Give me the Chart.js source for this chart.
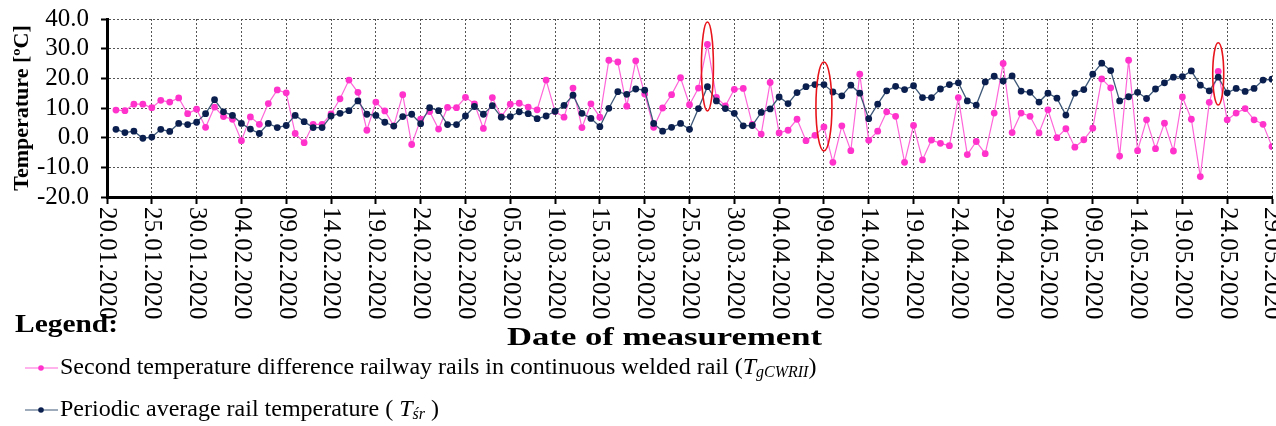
<!DOCTYPE html>
<html lang="en">
<head>
<meta charset="UTF-8">
<title>Rail temperature</title>
<script src="https://cdn.jsdelivr.net/npm/chart.js"></script>
<style>
  body { margin: 0; background: #fff; }
</style>
</head>
<body>
<canvas id="myChart" width="1276" height="426"></canvas>
<script>
  // tick labels on the date axis, one every 5 days
  const tickLabels = ["20.01.2020", "25.01.2020", "30.01.2020", "04.02.2020", "09.02.2020", "14.02.2020",
    "19.02.2020", "24.02.2020", "29.02.2020", "05.03.2020", "10.03.2020", "15.03.2020", "20.03.2020",
    "25.03.2020", "30.03.2020", "04.04.2020", "09.04.2020", "14.04.2020", "19.04.2020", "24.04.2020",
    "29.04.2020", "04.05.2020", "09.05.2020", "14.05.2020", "19.05.2020", "24.05.2020", "29.05.2020"];
  const tickStep = 5;
  const firstDay = 1; // measurements start 21.01.2020 (day 0 = 20.01.2020)

  // second temperature difference, T_gCWRII
  const tgcwr = [
    9.3, 9.1, 11.3, 11.3, 10.1, 12.6, 12.0, 13.4, 8.1, 9.6, 3.5, 10.3, 7.1, 6.2, -1.0, 7.0, 4.5, 11.5, 16.1, 15.1,
    1.4, -1.7, 4.5, 4.5, 8.0, 13.1, 19.4, 15.3, 2.5, 12.0, 9.0, 4.0, 14.5, -2.3, 6.2, 8.8, 2.9, 10.2, 10.1, 13.6,
    11.4, 3.1, 13.5, 7.1, 11.3, 11.6, 10.3, 9.4, 19.4, 8.8, 6.9, 16.7, 3.4, 11.4, 6.9, 26.1, 25.5, 10.6, 25.9, 14.7,
    3.5, 10.0, 14.5, 20.2, 11.1, 16.7, 31.4, 13.6, 10.7, 16.3, 16.6, 4.5, 1.2, 18.6, 1.6, 2.5, 6.2, -1.0, 0.8, 3.6,
    -8.3, 4.0, -4.4, 21.4, -0.9, 2.2, 8.7, 7.2, -8.3, 4.1, -7.5, -0.8, -1.9, -2.7, 13.5, -5.7, -1.3, -5.4, 8.3, 25.0,
    1.7, 8.3, 7.2, 1.6, 9.4, 0.0, 3.0, -3.2, -0.7, 3.2, 19.8, 16.8, -6.2, 26.1, -4.4, 6.0, -3.7, 4.9, -4.5, 13.7,
    6.2, -13.1, 11.9, 22.3, 6.0, 8.3, 9.8, 6.0, 4.5, -3.0
  ];

  // periodic average rail temperature, T_sr
  const tsr = [
    2.8, 1.7, 2.2, -0.2, 0.2, 2.8, 2.1, 4.8, 4.4, 5.2, 8.1, 12.8, 8.7, 7.5, 4.8, 2.9, 1.4, 4.8, 3.4, 4.1,
    7.5, 5.4, 3.4, 3.4, 7.3, 8.2, 9.1, 12.4, 7.9, 7.5, 5.2, 3.9, 7.1, 7.9, 4.7, 10.1, 9.1, 4.4, 4.4, 7.3,
    10.5, 7.9, 10.8, 6.9, 7.1, 8.7, 8.1, 6.4, 7.3, 8.9, 10.9, 14.3, 8.2, 6.5, 3.7, 9.9, 15.5, 14.6, 16.4, 16.0,
    4.8, 2.2, 3.5, 4.8, 2.8, 9.8, 17.2, 12.4, 9.8, 8.2, 4.0, 4.1, 8.5, 9.7, 13.7, 11.5, 15.2, 17.2, 17.9, 17.9,
    15.4, 14.1, 17.7, 15.0, 6.4, 11.3, 15.8, 17.3, 16.2, 17.5, 13.5, 13.5, 16.4, 17.9, 18.5, 12.4, 11.0, 18.8, 20.7, 19.1,
    20.8, 15.7, 15.3, 12.0, 15.0, 13.3, 7.6, 15.0, 16.2, 21.4, 25.1, 22.6, 12.4, 13.8, 15.3, 13.2, 16.4, 18.5, 20.4, 20.6,
    22.5, 17.7, 15.8, 20.4, 15.1, 16.6, 15.6, 16.6, 19.4, 19.7
  ];

  // red ellipses drawn round three days (day index, value range)
  const markDay = [67, 80, 124];
  const markTop = [39, 25.5, 32];
  const markBottom = [9, -4.5, 11];

  const yMin = -20, yMax = 40, yStep = 10;

  const pink = '#ff33cc', pinkLine = '#ff66d9';
  const navy = '#0b1f4f', navyLine = '#3d5878';
  const serif = '"Liberation Serif", "Times New Roman", serif';

  const toPoints = arr => arr.map((v, i) => ({ x: firstDay + i, y: v }));

  function richText(ctx, parts, x, y) {
    parts.forEach(p => {
      ctx.font = p.font;
      ctx.fillText(p.text, x, y + (p.dy || 0));
      x += ctx.measureText(p.text).width;
    });
  }

  // text stretched sideways to a given width, like the source picture
  function wideText(ctx, text, x, y, w) {
    const m = ctx.measureText(text).width;
    ctx.save();
    ctx.translate(x, y);
    ctx.scale(w / m, 1);
    ctx.fillText(text, 0, 0);
    ctx.restore();
  }

  const extras = {
    id: 'extras',
    afterDraw(chart) {
      const ctx = chart.ctx;
      const xs = chart.scales.x, ys = chart.scales.y;
      ctx.save();

      // red ellipses
      const rx = [6, 8, 5.5];
      ctx.strokeStyle = '#e8141b';
      ctx.lineWidth = 1.6;
      markDay.forEach((d, i) => {
        const cx = xs.getPixelForValue(d);
        const t = ys.getPixelForValue(markTop[i]);
        const b = ys.getPixelForValue(markBottom[i]);
        ctx.beginPath();
        ctx.ellipse(cx, (t + b) / 2, rx[i], (b - t) / 2, 0, 0, Math.PI * 2);
        ctx.stroke();
      });

      // rotated date labels
      ctx.fillStyle = '#000';
      ctx.font = '25px ' + serif;
      ctx.textAlign = 'left';
      ctx.textBaseline = 'middle';
      tickLabels.forEach((t, k) => {
        const x = xs.getPixelForValue(k * tickStep);
        ctx.save();
        ctx.translate(x, ys.bottom + 10);
        ctx.rotate(Math.PI / 2);
        ctx.fillText(t, 0, 0);
        ctx.restore();
      });

      // axis titles
      ctx.font = 'bold 22px ' + serif;
      ctx.textAlign = 'center';
      ctx.save();
      ctx.translate(22, (ys.top + ys.bottom) / 2);
      ctx.rotate(-Math.PI / 2);
      ctx.fillText('Temperature [ºC]', 0, 0);
      ctx.restore();
      ctx.textAlign = 'left';
      ctx.font = 'bold 26px ' + serif;
      wideText(ctx, 'Date of measurement', 507, 338, 315);

      // legend
      wideText(ctx, 'Legend:', 15, 325, 103);

      const base = '24px ' + serif, ital = 'italic 24px ' + serif, sub = 'italic 16px ' + serif;
      const rows = [
        { y: 368, line: pinkLine, dot: pink, parts: [
          { text: 'Second temperature difference railway rails in continuous welded rail (', font: base },
          { text: 'T', font: ital }, { text: 'gCWRII', font: sub, dy: 5 }, { text: ')', font: base }] },
        { y: 410, line: navyLine, dot: navy, parts: [
          { text: 'Periodic average rail temperature ( ', font: base },
          { text: 'T', font: ital }, { text: 'śr', font: sub, dy: 5 }, { text: ' )', font: base }] }
      ];
      rows.forEach(r => {
        ctx.strokeStyle = r.line;
        ctx.lineWidth = 1.2;
        ctx.beginPath();
        ctx.moveTo(25, r.y);
        ctx.lineTo(58, r.y);
        ctx.stroke();
        ctx.fillStyle = r.dot;
        ctx.beginPath();
        ctx.arc(41, r.y, 2.8, 0, Math.PI * 2);
        ctx.fill();
        ctx.fillStyle = '#000';
        richText(ctx, r.parts, 60, r.y);
      });
      ctx.restore();
    }
  };

  Chart.defaults.font.family = serif;

  new Chart(document.getElementById('myChart'), {
    type: 'line',
    data: {
      datasets: [
        {
          label: 'Periodic average rail temperature',
          data: toPoints(tsr),
          borderColor: navyLine,
          borderWidth: 1.3,
          pointRadius: 3.4,
          pointBackgroundColor: navy,
          pointBorderColor: navy,
          pointBorderWidth: 0,
          order: 1
        },
        {
          label: 'Second temperature difference railway rails in continuous welded rail',
          data: toPoints(tgcwr),
          borderColor: pinkLine,
          borderWidth: 1.2,
          pointRadius: 3.4,
          pointBackgroundColor: pink,
          pointBorderColor: pink,
          pointBorderWidth: 0,
          order: 2
        }
      ]
    },
    options: {
      responsive: false,
      animation: false,
      layout: { padding: { top: 19, right: 2, left: 0, bottom: 0 } },
      plugins: { legend: { display: false }, tooltip: { enabled: false } },
      scales: {
        x: {
          type: 'linear',
          min: 0,
          max: (tickLabels.length - 1) * tickStep,
          ticks: { stepSize: tickStep, display: false },
          grid: { color: '#555', lineWidth: 1, tickLength: 7, tickColor: '#000', tickWidth: 2 },
          border: { display: true, color: '#000', width: 3, dash: [2, 2] },
          afterFit: s => { s.height = 229; }
        },
        y: {
          min: yMin,
          max: yMax,
          ticks: {
            stepSize: yStep,
            autoSkip: false,
            color: '#000',
            padding: 12,
            font: { size: 25, lineHeight: 0.4 },
            callback: v => v.toFixed(1)
          },
          grid: { color: '#555', lineWidth: 1, tickLength: 6, tickColor: '#000', tickWidth: 2 },
          border: { display: true, color: '#000', width: 3, dash: [2, 2] },
          afterFit: s => { s.width = 107; }
        }
      }
    },
    plugins: [extras]
  });
</script>
</body>
</html>
